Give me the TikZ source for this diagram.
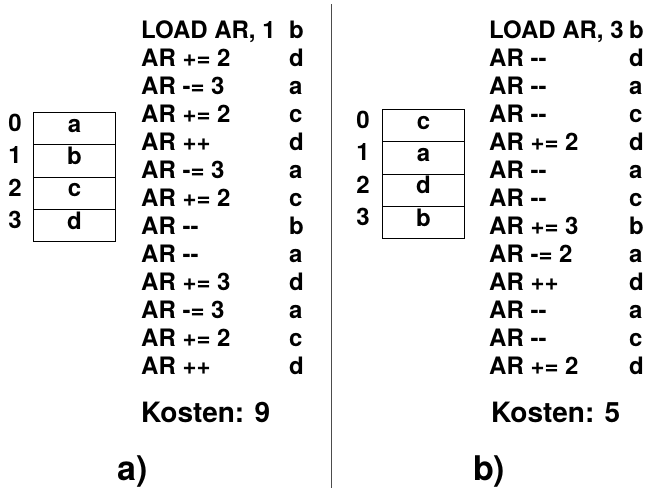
\documentclass[tikz,border=0pt]{standalone}
\usepackage{fontspec}
\setmainfont{TeX Gyre Heros}[Ligatures=TeXOff]
\newfontfamily\boldsans{texgyreheros-bold.otf}[Ligatures=TeXOff]
\begin{document}
\begin{tikzpicture}[x=1pt,y=-1pt,
  rowtxt/.style={anchor=base west, inner sep=0pt, font=\boldsans\fontsize{24}{28}\selectfont},
  cell/.style={draw, line width=1.1pt, minimum width=82pt, minimum height=32.25pt, inner sep=0pt,
    text height=0.72em, text depth=0pt, anchor=north west, font=\boldsans\fontsize{24}{28}\selectfont},
  num/.style={inner sep=0pt, text height=0.72em, text depth=0pt, font=\boldsans\fontsize{24}{28}\selectfont},
  cost/.style={anchor=base west, inner sep=0pt, font=\boldsans\fontsize{28}{32}\selectfont},
  sub/.style={anchor=base west, inner sep=0pt, font=\boldsans\fontsize{34}{38}\selectfont}]
\useasboundingbox (0,0) rectangle (649,488);
% separator
\coordinate (septop) at (331,4);
\coordinate (sepbot) at (331,488);
\draw[line width=1pt, black!70] (septop) -- (sepbot);
% left memory
\foreach \v [count=\i from 0] in {a,b,c,d} {
  \node[cell] (lm\i) at (33,112+32.25*\i) {\v};
  \node[num] (ln\i) at (15,128.1+32.25*\i) {\i};
}
% right memory
\foreach \v [count=\i from 0] in {c,a,d,b} {
  \node[cell] (rm\i) at (382,109+32.25*\i) {\v};
  \node[num] (rn\i) at (363,125.1+32.25*\i) {\i};
}
% left program
\foreach \t/\c [count=\i from 0] in {{LOAD AR, 1}/b,{AR += 2}/d,{AR -= 3}/a,{AR += 2}/c,{AR ++}/d,{AR -= 3}/a,{AR += 2}/c,{AR --}/b,{AR --}/a,{AR += 3}/d,{AR -= 3}/a,{AR += 2}/c,{AR ++}/d} {
  \node[rowtxt] (lt\i) at (141,38.5+28*\i) {\t};
  \node[rowtxt] (lc\i) at (289,38.5+28*\i) {\c};
}
% right program
\foreach \t/\c [count=\i from 0] in {{LOAD AR, 3}/b,{AR --}/d,{AR --}/a,{AR --}/c,{AR += 2}/d,{AR --}/a,{AR --}/c,{AR += 3}/b,{AR -= 2}/a,{AR ++}/d,{AR --}/a,{AR --}/c,{AR += 2}/d} {
  \node[rowtxt] (rt\i) at (489,38.5+28*\i) {\t};
  \node[rowtxt] (rc\i) at (629,38.5+28*\i) {\c};
}
\node[cost] (lcost) at (141,422) {Kosten: 9};
\node[cost] (rcost) at (491,422) {Kosten: 5};
\node[sub] (la) at (117,480) {a)};
\node[sub] (rb) at (473,480) {b)};
\end{tikzpicture}
\end{document}
